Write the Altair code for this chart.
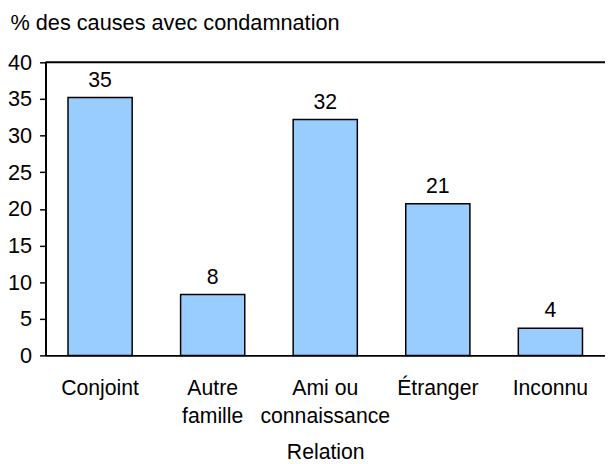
import altair as alt
import pandas as pd

categories = ["Conjoint", "Autre famille", "Ami ou connaissance", "Étranger", "Inconnu"]
values = [35.2, 8.3, 32.2, 20.7, 3.7]
y_ticks = [0, 5, 10, 15, 20, 25, 30, 35, 40]

df = pd.DataFrame({"relation": categories, "pct": values})

FONT = "Liberation Sans"
FS = 21.5

x_axis = alt.Axis(
    title="Relation",
    labelAngle=0,
    tickSize=0,
    ticks=False,
    labelPadding=23,
    labelLineHeight=28,
    labelOverlap=False,
    labelExpr="datum.label == 'Autre famille' ? ['Autre', 'famille'] : datum.label == 'Ami ou connaissance' ? ['Ami ou', 'connaissance'] : datum.label",
    titleY=99,
    titleBaseline="middle",
    titleFontWeight="normal",
)

y_axis = alt.Axis(
    values=y_ticks,
    tickCount=9,
    title="% des causes avec condamnation",
    titleAngle=0,
    titleAlign="left",
    titleBaseline="middle",
    titleX=-36,
    titleY=-40,
    titleFontWeight="normal",
    titleFontSize=22,
    tickSize=6,
    labelPadding=8,
    labelOverlap=False,
    labelFontSize=22,
    grid=False,
)

x_scale = alt.Scale(paddingInner=0.43, paddingOuter=0.2)
y_scale = alt.Scale(domain=[0, 40], nice=False)

x_enc = alt.X("relation:N", sort=categories, scale=x_scale, axis=x_axis)
y_enc = alt.Y("pct:Q", scale=y_scale, axis=y_axis)

base = alt.Chart(df)

bars = base.mark_bar(fill="#99CCFF", stroke="black", strokeWidth=1.5).encode(x=x_enc, y=y_enc)

labels = base.mark_text(baseline="bottom", dy=-6, font=FONT, fontSize=FS, color="black").encode(
    x=x_enc,
    y=y_enc,
    text=alt.Text("pct:Q", format=".0f"),
)

top_line = alt.Chart(pd.DataFrame({"pct": [40]})).mark_rule(color="black", strokeWidth=2).encode(
    y=y_enc
)

chart = (
    alt.layer(bars, labels, top_line)
    .properties(
        width=567,
        height=297,
        padding={"left": 38, "top": 52, "right": 0, "bottom": 106},
        autosize=alt.AutoSizeParams(type="none"),
    )
    .configure_view(stroke=None)
    .configure_axis(
        domainColor="black",
        domainWidth=2,
        tickColor="black",
        tickWidth=1.5,
        labelColor="black",
        titleColor="black",
        labelFont=FONT,
        titleFont=FONT,
        labelFontSize=FS,
        titleFontSize=FS,
    )
)

chart.save("out.html", embed_options={"renderer": "svg", "actions": False})
